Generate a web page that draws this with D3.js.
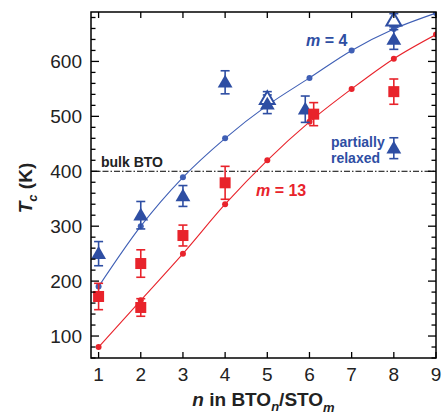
<!DOCTYPE html>
<html>
<head>
<meta charset="utf-8">
<script src="https://cdn.jsdelivr.net/npm/d3@7"></script>
<style>
  body { margin: 0; background: #fff; }
  text { font-family: "Liberation Sans", Arial, Helvetica, sans-serif; }
</style>
</head>
<body>
<div id="chart"></div>
<script>
// calculated Tc curves (small dots + line)
const nVals = [1, 2, 3, 4, 5, 6, 7, 8, 9];
const m4Calc = [190, 300, 389, 460, 520, 570, 620, 659, 688];
const m13Calc = [80, 165, 250, 340, 420, 490, 550, 605, 649];

// measured, filled blue triangles (m = 4)
const triN = [1, 2, 3, 4, 5, 5.9, 8];
const triTc = [250, 320, 355, 562, 522, 513, 640];
const triErr = [22, 25, 19, 21, 17, 24, 18];

// open blue triangles
const openN = [5, 8];
const openTc = [532, 675];
const openErr = [13, 12];

// partially relaxed sample
const relaxN = [8];
const relaxTc = [442];
const relaxErr = [19];

// measured, red squares (m = 13)
const sqN = [1, 2, 2, 3, 4, 6.1, 8];
const sqTc = [172, 232, 152, 283, 379, 504, 545];
const sqErr = [24, 25, 16, 19, 30, 21, 23];

const bulkTc = 400;
const xTicks = [1, 2, 3, 4, 5, 6, 7, 8, 9];
const yTicks = [100, 200, 300, 400, 500, 600];
const yMinor = d3.range(60, 690, 20);

const width = 442, height = 416;
const margin = { top: 12, right: 6, bottom: 58, left: 91 };
const blue = "#2e4ea3", blueLine = "#3f5fb5", red = "#e8232b";

const svg = d3.select("#chart").append("svg")
  .attr("width", width).attr("height", height);

const x = d3.scaleLinear().domain([0.82, 9]).range([margin.left, width - margin.right]);
const y = d3.scaleLinear().domain([60, 690]).range([height - margin.bottom, margin.top]);

const plot = svg.append("g");
const x0 = margin.left, x1 = width - margin.right, y0 = height - margin.bottom, y1 = margin.top;

// ticks (inside)
const tickG = svg.append("g").attr("stroke", "#000").attr("stroke-width", 1.3);
xTicks.forEach(t => {
  tickG.append("line").attr("x1", x(t)).attr("x2", x(t)).attr("y1", y0).attr("y2", y0 - 6);
  tickG.append("line").attr("x1", x(t)).attr("x2", x(t)).attr("y1", y1).attr("y2", y1 + 6);
});
yMinor.forEach(t => {
  const len = yTicks.includes(t) ? 8 : 4.5;
  tickG.append("line").attr("y1", y(t)).attr("y2", y(t)).attr("x1", x0).attr("x2", x0 + len);
  tickG.append("line").attr("y1", y(t)).attr("y2", y(t)).attr("x1", x1).attr("x2", x1 - len);
});

// tick labels
svg.append("g").selectAll("text").data(xTicks).join("text")
  .attr("x", d => x(d)).attr("y", y0 + 23)
  .attr("text-anchor", "middle").attr("font-size", 19).attr("fill", "#222")
  .text(d => d);
svg.append("g").selectAll("text").data(yTicks).join("text")
  .attr("x", x0 - 9).attr("y", d => y(d) + 7)
  .attr("text-anchor", "end").attr("font-size", 19).attr("fill", "#222")
  .text(d => d);

// bulk BTO reference line
plot.append("line")
  .attr("x1", x0).attr("x2", x1).attr("y1", y(bulkTc)).attr("y2", y(bulkTc))
  .attr("stroke", "#000").attr("stroke-width", 1)
  .attr("stroke-dasharray", "6,2,1.5,2");
plot.append("text").attr("x", x0 + 10).attr("y", y(bulkTc) - 4)
  .attr("font-size", 14).attr("font-weight", "bold").attr("fill", "#222")
  .text("bulk BTO");

// calculated curves
const line = d3.line().x(d => x(d[0])).y(d => y(d[1])).curve(d3.curveMonotoneX);
const clip = svg.append("clipPath").attr("id", "clip").append("rect")
  .attr("x", x0).attr("y", y1).attr("width", x1 - x0).attr("height", y0 - y1);
[[m4Calc, blueLine], [m13Calc, red]].forEach(([vals, col]) => {
  const pts = nVals.map((n, i) => [n, vals[i]]);
  const g = plot.append("g").attr("clip-path", "url(#clip)");
  g.append("path").attr("d", line(pts)).attr("fill", "none")
    .attr("stroke", col).attr("stroke-width", 1.1);
  g.selectAll("circle").data(pts).join("circle")
    .attr("cx", d => x(d[0])).attr("cy", d => y(d[1])).attr("r", 3)
    .attr("fill", col);
});

// error bar helper
function errBars(g, ns, vals, errs, col) {
  ns.forEach((n, i) => {
    const cx = x(n), top = y(vals[i] + errs[i]), bot = y(vals[i] - errs[i]);
    g.append("line").attr("x1", cx).attr("x2", cx).attr("y1", top).attr("y2", bot)
      .attr("stroke", col).attr("stroke-width", 1.6);
    [top, bot].forEach(yy => g.append("line")
      .attr("x1", cx - 4.5).attr("x2", cx + 4.5).attr("y1", yy).attr("y2", yy)
      .attr("stroke", col).attr("stroke-width", 1.6));
  });
}
const tri = d3.symbol().type(d3.symbolTriangle).size(95);

const mk = plot.append("g").attr("clip-path", "url(#clip)");
errBars(mk, openN, openTc, openErr, blue);
errBars(mk, triN, triTc, triErr, blue);
errBars(mk, relaxN, relaxTc, relaxErr, blue);
mk.selectAll("path.open").data(openN).join("path").attr("class", "open")
  .attr("d", tri).attr("transform", (d, i) => `translate(${x(d)},${y(openTc[i]) + 1})`)
  .attr("fill", "#fff").attr("stroke", blue).attr("stroke-width", 2);
mk.selectAll("path.tri").data(triN).join("path").attr("class", "tri")
  .attr("d", tri).attr("transform", (d, i) => `translate(${x(d)},${y(triTc[i]) + 1})`)
  .attr("fill", blue);
mk.selectAll("path.relax").data(relaxN).join("path").attr("class", "relax")
  .attr("d", tri).attr("transform", (d, i) => `translate(${x(d)},${y(relaxTc[i]) + 1})`)
  .attr("fill", blue);

errBars(mk, sqN, sqTc, sqErr, red);
mk.selectAll("rect.sq").data(sqN).join("rect").attr("class", "sq")
  .attr("x", d => x(d) - 5.5).attr("y", (d, i) => y(sqTc[i]) - 5.5)
  .attr("width", 11).attr("height", 11).attr("fill", red);

// annotations
const m4 = plot.append("text").attr("x", 306).attr("y", 46)
  .attr("font-size", 16).attr("font-weight", "bold").attr("fill", blue);
m4.append("tspan").attr("font-style", "italic").text("m");
m4.append("tspan").text(" = 4");
const m13 = plot.append("text").attr("x", 256).attr("y", 196)
  .attr("font-size", 16).attr("font-weight", "bold").attr("fill", red);
m13.append("tspan").attr("font-style", "italic").text("m");
m13.append("tspan").text(" = 13");
const pr = plot.append("text").attr("font-size", 14).attr("font-weight", "bold").attr("fill", blue);
pr.append("tspan").attr("x", 331).attr("y", 147).text("partially");
pr.append("tspan").attr("x", 331).attr("y", 163).text("relaxed");

// frame
svg.append("rect").attr("x", x0).attr("y", y1).attr("width", x1 - x0).attr("height", y0 - y1)
  .attr("fill", "none").attr("stroke", "#000").attr("stroke-width", 1.5);

// axis titles
const xl = svg.append("text").attr("x", (x0 + x1) / 2).attr("y", 406)
  .attr("text-anchor", "middle").attr("font-size", 19).attr("font-weight", "bold").attr("fill", "#222");
xl.append("tspan").attr("font-style", "italic").text("n");
xl.append("tspan").text(" in BTO");
xl.append("tspan").attr("font-style", "italic").attr("font-size", 13).attr("dy", 5).text("n");
xl.append("tspan").attr("dy", -5).text("/STO");
xl.append("tspan").attr("font-style", "italic").attr("font-size", 13).attr("dy", 6).text("m");

const yl = svg.append("text").attr("transform", `translate(32,${(y0 + y1) / 2 + 3}) rotate(-90)`)
  .attr("text-anchor", "middle").attr("font-size", 19).attr("font-weight", "bold").attr("fill", "#222");
yl.append("tspan").attr("font-style", "italic").text("T");
yl.append("tspan").attr("font-style", "italic").attr("font-size", 13).attr("dy", 5).text("c");
yl.append("tspan").attr("dy", -5).text(" (K)");
</script>
</body>
</html>
